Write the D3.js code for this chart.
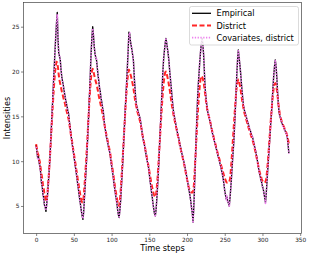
<!DOCTYPE html>
<html lang="en">
<head>
<meta charset="UTF-8">
<title>Intensities</title>
<script src="https://cdn.jsdelivr.net/npm/d3@7"></script>
<style>
  body { margin: 0; background: white; }
  svg { font-family: "DejaVu Sans", sans-serif; }
</style>
</head>
<body>
<div id="chart"></div>
<script>
// observed intensities, one value per time step (0..335)
var empirical = [
  11.8, 11.1, 10.4, 10.6, 9.8, 9.5, 8.7, 7.6, 7.2, 6.3, 5.9, 5.1, 4.9, 4.4,
  5.2, 6.1, 7.4, 8.6, 9.9, 11.6, 13.4, 15.2, 16.9, 18.8, 20.5, 22.3, 23.9, 25.4, 26.6,
  23.6, 22.0, 21.7, 21.3, 20.2, 19.4, 18.9, 18.5, 17.9, 17.4, 16.9, 16.5, 16.1, 15.6, 15.3, 14.5, 13.8, 13.1, 12.4, 11.8, 11.2, 10.6, 10.0, 9.4, 8.8, 8.2, 7.5, 6.9, 6.2, 5.6, 5.0, 4.4, 3.9, 3.5,
  4.3, 5.8, 7.3, 8.8, 10.3, 12.0, 14.0, 15.9, 18.0, 20.2, 22.3, 23.9, 25.0,
  24.0, 22.8, 22.0, 21.6, 21.3, 20.5, 19.6, 19.0, 18.2, 17.8, 17.0, 16.6, 16.0, 15.6, 14.6, 13.8, 13.4, 12.8, 12.4, 12.0, 11.5, 11.2, 10.8, 10.1, 9.5, 8.9, 8.4, 7.6, 7.0, 6.4, 5.9, 5.3, 4.6, 4.0, 3.7,
  4.5, 5.6, 7.1, 8.6, 10.2, 12.0, 13.8, 15.6, 17.2, 18.9, 20.6, 22.4, 24.4,
  24.2, 23.4, 22.9, 22.4, 21.8, 21.2, 19.5, 18.2, 17.0, 16.3, 15.9, 15.6, 15.3, 15.0, 14.7, 14.1, 13.5, 12.9, 12.4, 12.0, 11.6, 11.1, 10.6, 10.1, 9.7, 9.3, 8.6, 7.8, 7.2, 6.5, 5.9, 5.2, 4.6, 4.1, 3.9,
  4.6, 5.8, 7.2, 8.7, 10.6, 12.5, 14.4, 16.3, 18.2, 20.0, 21.4, 22.3, 23.1, 23.7,
  23.2, 22.6, 22.0, 21.2, 20.1, 19.2, 18.3, 17.3, 16.4, 15.6, 15.1, 14.6, 14.2, 13.7, 13.3, 12.9, 12.6, 12.1, 11.7, 11.3, 10.9, 10.6, 10.2, 9.9, 9.5, 9.0, 8.6, 8.0, 7.6, 7.1, 6.6, 6.1, 5.5, 4.8, 4.2, 3.2,
  4.9, 7.3, 9.8, 12.4, 14.8, 17.0, 18.6, 19.9, 21.2, 22.3, 23.1, 23.7,
  23.0, 21.9, 20.0, 18.2, 17.2, 16.4, 15.7, 15.3, 15.0, 14.6, 14.3, 13.8, 13.4, 13.0, 12.7, 12.3, 12.0, 11.7, 11.3, 11.0, 10.6, 10.3, 10.0, 9.6, 9.3, 8.9, 8.5, 8.0, 7.4, 6.7, 6.2, 5.8, 6.0, 5.5, 5.3, 5.0,
  5.9, 7.0, 8.2, 9.6, 10.9, 12.1, 13.8, 15.6, 17.6, 19.7, 21.3, 22.4,
  21.6, 20.8, 19.9, 18.8, 17.8, 16.9, 16.1, 15.7, 15.4, 15.1, 14.8, 14.5, 14.2, 13.9, 13.6, 13.4, 13.1, 12.8, 12.6, 12.3, 11.8, 11.5, 11.1, 10.7, 10.2, 9.7, 9.1, 8.7, 8.3, 7.9, 7.6, 7.2, 6.9, 6.4, 5.9, 5.4,
  6.3, 7.7, 9.0, 10.3, 11.6, 12.9, 14.3, 15.4, 16.9, 18.3, 19.6, 20.6, 21.3,
  20.6, 19.4, 17.8, 16.4, 15.5, 15.0, 14.8, 14.4, 14.2, 14.0, 13.8, 13.6, 13.4, 13.2, 13.0, 12.6, 11.8, 10.9
];

// district-only model
var district = [
  11.9, 11.4, 10.9, 10.7, 10.2, 9.9, 9.2, 8.6, 8.1, 7.4, 7.0, 6.3, 6.0, 5.5,
  5.6, 6.4, 7.5, 8.7, 10.0, 11.5, 13.0, 14.6, 16.1, 17.5, 18.8, 19.9, 20.6, 21.1, 21.0,
  20.4, 19.6, 19.0, 18.6, 18.2, 17.8, 17.5, 17.1, 16.8, 16.5, 16.1, 15.7, 15.4, 15.0, 14.7, 14.2, 13.6, 13.0, 12.5, 12.0, 11.4, 10.9, 10.3, 9.8, 9.2, 8.7, 8.1, 7.6, 7.0, 6.5, 6.0, 5.6, 5.4, 5.5,
  6.0, 7.1, 8.4, 9.7, 11.1, 12.6, 14.2, 15.8, 17.2, 18.5, 19.5, 20.1, 20.3,
  20.0, 19.6, 19.2, 18.9, 18.6, 18.2, 17.8, 17.3, 16.9, 16.5, 16.1, 15.7, 15.3, 14.9, 14.4, 13.9, 13.4, 13.0, 12.6, 12.2, 11.8, 11.4, 11.0, 10.4, 9.8, 9.3, 8.7, 8.1, 7.5, 6.9, 6.4, 5.9, 5.4, 5.1, 5.0,
  5.6, 6.6, 7.9, 9.3, 10.8, 12.3, 13.8, 15.3, 16.7, 18.0, 19.1, 19.8, 20.2,
  20.0, 19.7, 19.4, 19.0, 18.6, 18.1, 17.5, 16.9, 16.4, 16.0, 15.6, 15.3, 15.0, 14.7, 14.3, 13.9, 13.4, 12.9, 12.5, 12.1, 11.7, 11.2, 10.8, 10.3, 9.9, 9.4, 8.9, 8.4, 7.9, 7.4, 7.0, 6.6, 6.3, 6.1, 6.0,
  6.3, 7.1, 8.2, 9.5, 10.9, 12.3, 13.8, 15.2, 16.5, 17.7, 18.7, 19.4, 19.9, 20.0,
  19.8, 19.4, 19.0, 18.5, 18.0, 17.4, 16.8, 16.2, 15.7, 15.2, 14.8, 14.4, 14.0, 13.6, 13.2, 12.8, 12.4, 12.0, 11.6, 11.2, 10.9, 10.5, 10.1, 9.7, 9.3, 8.9, 8.4, 8.0, 7.6, 7.2, 6.9, 6.7, 6.6, 6.5, 6.5, 6.6,
  7.2, 8.6, 10.2, 11.8, 13.4, 14.9, 16.3, 17.5, 18.5, 19.2, 19.5, 19.4,
  19.2, 18.8, 18.2, 17.5, 16.8, 16.2, 15.7, 15.3, 15.0, 14.7, 14.3, 13.9, 13.5, 13.1, 12.8, 12.4, 12.1, 11.8, 11.4, 11.1, 10.8, 10.5, 10.2, 9.9, 9.6, 9.3, 9.0, 8.7, 8.4, 8.1, 7.9, 7.7, 7.6, 7.6, 7.6, 7.7,
  8.0, 8.9, 10.0, 11.3, 12.6, 13.9, 15.2, 16.4, 17.5, 18.4, 18.9, 19.1,
  18.9, 18.5, 18.0, 17.4, 16.8, 16.3, 15.8, 15.4, 15.1, 14.8, 14.5, 14.2, 13.9, 13.6, 13.4, 13.1, 12.8, 12.6, 12.3, 12.0, 11.7, 11.3, 10.9, 10.5, 10.1, 9.7, 9.3, 8.9, 8.6, 8.3, 8.0, 7.8, 7.7, 7.6, 7.6, 7.7,
  8.0, 8.8, 9.8, 10.9, 12.1, 13.3, 14.5, 15.6, 16.6, 17.5, 18.2, 18.6, 18.7,
  18.5, 18.0, 17.3, 16.5, 15.8, 15.3, 14.9, 14.6, 14.3, 14.1, 13.9, 13.7, 13.5, 13.3, 13.1, 12.8, 12.4, 11.9
];

// covariates + district model
var covariates = [
  11.6, 11.2, 10.3, 10.4, 9.9, 9.3, 8.8, 7.8, 7.0, 6.4, 5.7, 5.2, 4.8, 4.5,
  5.0, 6.2, 7.3, 8.8, 9.8, 11.7, 13.3, 15.3, 16.8, 18.9, 20.4, 22.2, 24.0, 25.3, 26.4,
  23.8, 21.9, 21.8, 21.1, 20.3, 19.2, 19.0, 18.3, 18.0, 17.2, 17.0, 16.3, 16.2, 15.5, 15.4, 14.3, 13.9, 13.0, 12.5, 11.7, 11.3, 10.5, 10.1, 9.3, 8.9, 8.1, 7.6, 6.8, 6.3, 5.5, 5.1, 4.3, 4.0, 3.6,
  4.2, 5.9, 7.2, 8.9, 10.2, 12.1, 13.9, 16.0, 17.9, 20.3, 22.2, 23.8, 24.8,
  24.1, 22.7, 22.1, 21.4, 21.4, 20.3, 19.7, 18.9, 18.3, 17.6, 17.1, 16.5, 16.1, 15.4, 14.7, 13.7, 13.5, 12.7, 12.5, 11.9, 11.6, 11.1, 10.9, 10.0, 9.6, 8.8, 8.5, 7.5, 7.1, 6.3, 6.0, 5.2, 4.7, 3.9, 3.8,
  4.4, 5.7, 7.0, 8.7, 10.1, 12.1, 13.7, 15.7, 17.1, 19.0, 20.5, 22.5, 24.2,
  24.3, 23.3, 23.0, 22.3, 21.9, 21.0, 19.6, 18.0, 17.1, 16.2, 16.0, 15.5, 15.4, 14.9, 14.8, 14.0, 13.6, 12.8, 12.5, 11.9, 11.7, 11.0, 10.7, 10.0, 9.8, 9.2, 8.7, 7.7, 7.3, 6.4, 6.0, 5.1, 4.7, 4.0, 3.8,
  4.7, 5.7, 7.3, 8.6, 10.7, 12.4, 14.5, 16.2, 18.3, 19.9, 21.5, 22.2, 23.2, 23.6,
  23.3, 22.5, 22.1, 21.1, 20.2, 19.1, 18.4, 17.2, 16.5, 15.5, 15.2, 14.5, 14.3, 13.6, 13.4, 12.8, 12.7, 12.0, 11.8, 11.2, 11.0, 10.5, 10.3, 9.8, 9.6, 8.9, 8.7, 7.9, 7.7, 7.0, 6.7, 6.0, 5.6, 4.7, 4.3, 3.1,
  5.0, 7.2, 9.9, 12.3, 14.9, 16.9, 18.7, 19.8, 21.3, 22.2, 23.2, 23.6,
  23.1, 21.8, 20.1, 18.1, 17.3, 16.3, 15.8, 15.2, 15.1, 14.5, 14.4, 13.7, 13.5, 12.9, 12.8, 12.2, 12.1, 11.6, 11.4, 10.9, 10.7, 10.2, 10.1, 9.5, 9.4, 8.8, 8.6, 7.9, 7.5, 6.6, 6.3, 5.7, 6.1, 5.4, 5.4, 4.9,
  6.0, 6.9, 8.3, 9.5, 11.0, 12.0, 13.9, 15.5, 17.7, 19.6, 21.4, 22.3,
  21.7, 20.7, 20.0, 18.7, 17.9, 16.8, 16.2, 15.6, 15.5, 15.0, 14.9, 14.4, 14.3, 13.8, 13.7, 13.3, 13.2, 12.7, 12.7, 12.2, 11.9, 11.4, 11.2, 10.6, 10.3, 9.6, 9.2, 8.6, 8.4, 7.8, 7.7, 7.1, 7.0, 6.3, 6.0, 5.3,
  6.4, 7.6, 9.1, 10.2, 11.7, 12.8, 14.4, 15.3, 17.0, 18.2, 19.7, 20.5, 21.2,
  20.7, 19.3, 17.9, 16.3, 15.6, 14.9, 14.9, 14.3, 14.3, 13.9, 13.9, 13.5, 13.5, 13.1, 13.1, 12.5, 11.9, 10.8
];

var xTicks = [0, 50, 100, 150, 200, 250, 300, 350];
var yTicks = [5, 10, 15, 20, 25];
var legendNames = ["Empirical", "District", "Covariates, district"];

// time steps are just the index of each value
var steps = d3.range(empirical.length);

var W = 310, H = 256;
var margin = {top: 2.5, right: 8.5, bottom: 22.5, left: 23.5},
    width = W - margin.left - margin.right,
    height = H - margin.top - margin.bottom;

var svg = d3.select("#chart")
  .append("svg")
    .attr("width", W)
    .attr("height", H)
  .append("g")
    .attr("transform", "translate(" + margin.left + "," + margin.top + ")");

var x = d3.scaleLinear().domain([-16.75, 351.75]).range([0, width]);
var y = d3.scaleLinear().domain([1.93, 27.7]).range([height, 0]);

// axes
var xAxis = svg.append("g")
  .attr("transform", "translate(0," + height + ")")
  .call(d3.axisBottom(x).tickValues(xTicks).tickSize(2.5).tickPadding(1.5));
var yAxis = svg.append("g")
  .call(d3.axisLeft(y).tickValues(yTicks).tickSize(2.5).tickPadding(1.5));

[xAxis, yAxis].forEach(function(a) {
  a.select(".domain").remove();
  a.selectAll("line").attr("stroke", "#333").attr("stroke-width", 0.6);
  a.selectAll("text")
    .attr("fill", "#222")
    .style("font-size", "5.8px")
    .style("font-family", "DejaVu Sans");
});

// lines
var line = function(vals) {
  return d3.line()
    .x(function(d, i) { return x(steps[i]); })
    .y(function(d) { return y(d); })(vals);
};

var styles = [
  {stroke: "black", w: 1.3, dash: null, op: 1},
  {stroke: "red", w: 2, dash: "5,2.5", op: 0.85},
  {stroke: "violet", w: 1.8, dash: "1.3,1.5", op: 1}
];

[empirical, district, covariates].forEach(function(vals, i) {
  svg.append("path")
    .attr("d", line(vals))
    .attr("fill", "none")
    .attr("stroke", styles[i].stroke)
    .attr("stroke-opacity", styles[i].op)
    .attr("stroke-width", styles[i].w)
    .attr("stroke-dasharray", styles[i].dash)
    .attr("stroke-linejoin", "round");
});

// frame
svg.append("rect")
  .attr("width", width)
  .attr("height", height)
  .attr("fill", "none")
  .attr("stroke", "#444")
  .attr("stroke-width", 0.7);

// axis labels
svg.append("text")
  .attr("x", width / 2)
  .attr("y", height + 17.5)
  .attr("text-anchor", "middle")
  .style("font-size", "8.2px")
  .text("Time steps");

svg.append("text")
  .attr("transform", "rotate(-90)")
  .attr("x", -height / 2)
  .attr("y", -14)
  .attr("text-anchor", "middle")
  .style("font-size", "8.2px")
  .text("Intensities");

// legend
var lg = svg.append("g").attr("transform", "translate(" + (189.5 - margin.left) + "," + (6.5 - margin.top) + ")");
lg.append("rect")
  .attr("width", 109)
  .attr("height", 38.5)
  .attr("rx", 2)
  .attr("fill", "white")
  .attr("fill-opacity", 0.85)
  .attr("stroke", "#ccc")
  .attr("stroke-width", 0.7);

legendNames.forEach(function(name, i) {
  var cy = 6.8 + i * 12.2;
  lg.append("line")
    .attr("x1", 2.5).attr("x2", 21.5)
    .attr("y1", cy).attr("y2", cy)
    .attr("stroke", styles[i].stroke)
    .attr("stroke-width", styles[i].w)
    .attr("stroke-opacity", styles[i].op)
    .attr("stroke-dasharray", styles[i].dash);
  lg.append("text")
    .attr("x", 27)
    .attr("y", cy + 3)
    .style("font-size", "8.2px")
    .text(name);
});
</script>
</body>
</html>
